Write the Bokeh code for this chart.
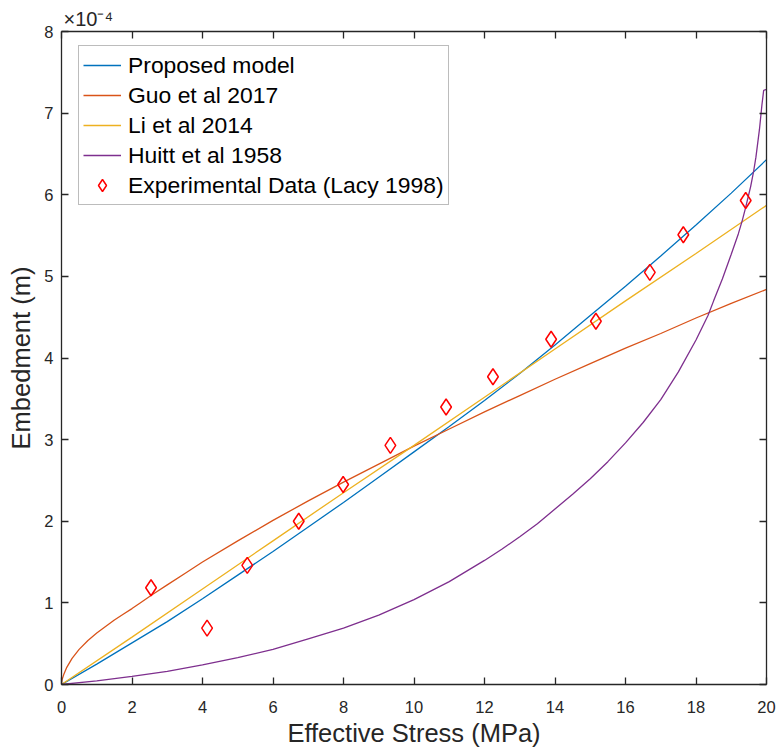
from bokeh.plotting import figure
from bokeh.models import (LinearAxis, FixedTicker, Range1d, Legend, LegendItem, Title)
from bokeh.embed import file_html
from bokeh.resources import INLINE

# ---------------- data (embedment in units of 1e-4 m) ----------------
x_ticks = [0, 2, 4, 6, 8, 10, 12, 14, 16, 18, 20]
y_ticks = [0, 1, 2, 3, 4, 5, 6, 7, 8]

proposed_x = [0, 1, 2, 3, 4, 5, 6, 7, 8, 9, 10, 11, 12, 13, 14, 15, 16, 17, 18, 19, 20]
proposed_y = [0, 0.25, 0.51, 0.77, 1.05, 1.34, 1.63, 1.93, 2.23, 2.54, 2.85, 3.16,
              3.48, 3.81, 4.16, 4.52, 4.88, 5.25, 5.63, 6.02, 6.43]

guo_x = [0, 0.005, 0.02, 0.07, 0.15, 0.3, 0.5, 0.75, 1.0, 1.25, 1.5, 1.75, 2.0, 2.2,
         2.57, 3, 3.5, 4, 5, 6, 7, 8, 9, 10, 11, 12, 13, 14, 15, 16, 17, 18, 19, 20]
guo_y = [0, 0.03, 0.065, 0.13, 0.21, 0.32, 0.43, 0.54, 0.63, 0.71, 0.79, 0.86, 0.93,
         0.99, 1.10, 1.22, 1.36, 1.50, 1.76, 2.01, 2.25, 2.48, 2.70, 2.92, 3.13, 3.34,
         3.54, 3.74, 3.93, 4.12, 4.30, 4.49, 4.67, 4.84]

li_x = [0, 2, 4, 6, 8, 10, 12, 14, 16, 18, 20]
li_y = [0, 0.58, 1.17, 1.76, 2.35, 2.93, 3.52, 4.11, 4.70, 5.28, 5.87]

huitt_x = [0, 1, 2, 3, 4, 5, 6, 7, 8, 9, 10, 11, 12, 12.5, 13, 13.5, 14, 14.5, 15,
           15.5, 16, 16.5, 17, 17.5, 18, 18.34, 18.5, 18.75, 19, 19.2, 19.31, 19.4,
           19.55, 19.64, 19.7, 19.8, 19.87, 19.92, 20]
huitt_y = [0, 0.045, 0.10, 0.16, 0.24, 0.33, 0.43, 0.56, 0.69, 0.85, 1.04, 1.26,
           1.52, 1.66, 1.81, 1.97, 2.15, 2.33, 2.52, 2.73, 2.96, 3.21, 3.49, 3.83,
           4.22, 4.52, 4.70, 4.97, 5.27, 5.52, 5.68, 5.83, 6.10, 6.30, 6.46, 6.80,
           7.10, 7.28, 7.29]

exp_x = [2.54, 4.13, 5.27, 6.73, 7.99, 9.33, 10.91, 12.24, 13.89, 15.16, 16.69, 17.64, 19.41]
exp_y = [1.185, 0.69, 1.46, 2.00, 2.45, 2.93, 3.40, 3.77, 4.23, 4.45, 5.05, 5.51, 5.93]

# ---------------- styling ----------------
FONT = "Liberation Sans"
AX = "#262626"

p = figure(width=776, height=751, output_backend="svg", toolbar_location=None,
           x_range=Range1d(0, 20), y_range=Range1d(0, 8),
           min_border_left=61, min_border_right=10, min_border_top=31,
           min_border_bottom=67, x_axis_label="Effective Stress (MPa)",
           y_axis_label="Embedment (m)")
p.outline_line_color = None
p.xgrid.visible = False
p.ygrid.visible = False
p.background_fill_color = "white"
p.border_fill_color = "white"

def style_axis(ax, show_labels=True):
    ax.axis_line_color = AX
    ax.axis_line_width = 1.3
    ax.major_tick_line_color = AX
    ax.major_tick_line_width = 1.3
    ax.major_tick_in = 7
    ax.major_tick_out = 0
    ax.minor_tick_line_color = None
    ax.major_label_text_font = FONT
    ax.major_label_text_font_size = "16.5px"
    ax.major_label_text_color = AX
    ax.axis_label_text_font = FONT
    ax.axis_label_text_font_size = "25.5px"
    ax.axis_label_text_font_style = "normal"
    ax.axis_label_text_color = AX
    if not show_labels:
        ax.major_label_text_font_size = "0px"
        ax.major_label_text_alpha = 0

p.xaxis.ticker = FixedTicker(ticks=x_ticks)
p.yaxis.ticker = FixedTicker(ticks=y_ticks)
for ax in p.xaxis + p.yaxis:
    style_axis(ax)
p.xaxis.major_label_standoff = 16
p.xaxis.axis_label_standoff = 3
p.yaxis.major_label_standoff = 8
p.yaxis.axis_label_standoff = 6

top = LinearAxis(ticker=FixedTicker(ticks=x_ticks))
right = LinearAxis(ticker=FixedTicker(ticks=y_ticks))
style_axis(top, False)
style_axis(right, False)
top.major_label_standoff = 0
right.major_label_standoff = 0
p.add_layout(top, "above")
p.add_layout(right, "right")

# exponent multiplier shown above the axes, as MATLAB does
p.add_layout(Title(text="\u00d710\u207b\u2074", align="left", offset=2, standoff=3,
                   text_font=FONT, text_font_size="20px", text_color=AX,
                   text_font_style="normal", vertical_align="bottom"), "above")

# ---------------- glyphs ----------------
r_prop = p.line(proposed_x, proposed_y, line_color="#0072BD", line_width=1.3)
r_guo = p.line(guo_x, guo_y, line_color="#D95319", line_width=1.3)
r_li = p.line(li_x, li_y, line_color="#EDB120", line_width=1.3)
r_huitt = p.line(huitt_x, huitt_y, line_color="#7E2F8E", line_width=1.3)
r_exp = p.scatter(exp_x, exp_y, marker="diamond", size=16, fill_color=None,
                  line_color="#FF0000", line_width=1.5)

legend = Legend(items=[
    LegendItem(label="Proposed model", renderers=[r_prop]),
    LegendItem(label="Guo et al 2017", renderers=[r_guo]),
    LegendItem(label="Li et al 2014", renderers=[r_li]),
    LegendItem(label="Huitt et al 1958", renderers=[r_huitt]),
    LegendItem(label="Experimental Data (Lacy 1998)", renderers=[r_exp]),
], location=(17, 479))
legend.label_text_font = FONT
legend.label_text_font_size = "22.9px"
legend.label_text_color = "black"
legend.glyph_width = 38
legend.glyph_height = 30
legend.label_height = 26
legend.label_standoff = 7
legend.padding = 4
legend.spacing = 0
legend.margin = 0
legend.border_line_color = "#7a7a7a"
legend.border_line_width = 1
legend.background_fill_color = "white"
legend.background_fill_alpha = 1
p.add_layout(legend, "center")

open("out.html", "w").write(file_html(p, INLINE))
